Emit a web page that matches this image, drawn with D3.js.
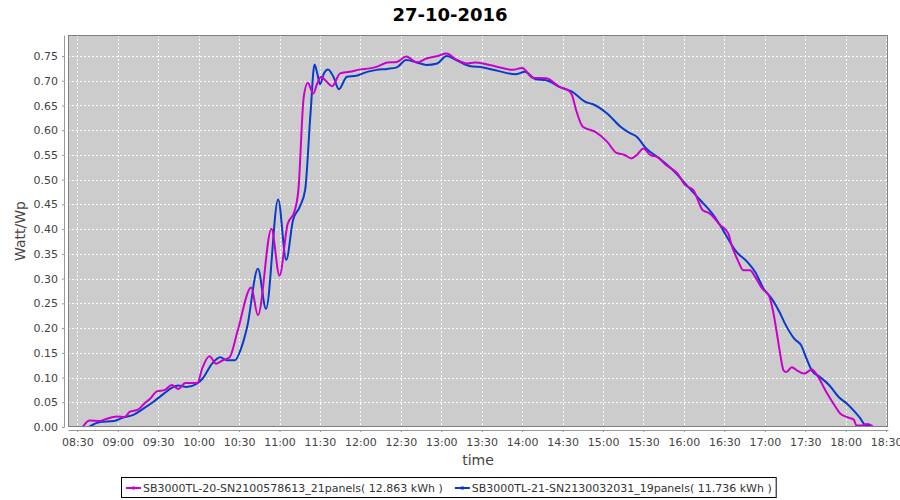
<!DOCTYPE html>
<meta charset="utf-8">
<html>
  <head>
    <style>
      body { margin: 0; background: #fff; }
      text { font-family: "DejaVu Sans", sans-serif; }
      .axis text { font-size: 11px; fill: #444; }
      .axis path, .axis line { stroke: #999; }
      .grid line { stroke: #fff; stroke-width: 1px; stroke-dasharray: 2,2; opacity: 0.9; }
    </style>
    <script src="https://d3js.org/d3.v7.min.js"></script>
  </head>
  <body>
    <script>

      var width = 900,
          height = 500;

      // chart data
      var title = "27-10-2016";
      var seriesNames = ["SB3000TL-20-SN2100578613_21panels( 12.863 kWh )",
                         "SB3000TL-21-SN2130032031_19panels( 11.736 kWh )"];
      var seriesColors = ["#cc00cc", "#0a3bcc"];

      var magentaTimes = ["08:34","08:39","08:47","08:50","09:00","09:05","09:09","09:15","09:20","09:24",
        "09:29","09:35","09:40","09:45","09:50","09:59","10:03","10:08","10:13","10:18",
        "10:23","10:29","10:39","10:44","10:54","11:00","11:06","11:11","11:14","11:18",
        "11:21","11:25","11:28","11:31","11:34","11:39","11:45","11:52","12:00","12:07",
        "12:12","12:20","12:27","12:34","12:42","12:49","12:57","13:04","13:11","13:19",
        "13:25","13:34","13:42","13:53","14:00","14:08","14:18","14:28","14:34","14:37",
        "14:40","14:45","14:54","15:03","15:10","15:16","15:21","15:25","15:30","15:35",
        "15:40","15:47","15:55","16:01","16:07","16:14","16:19","16:27","16:33","16:35",
        "16:40","16:44","16:49","16:53","16:58","17:03","17:06","17:09","17:11","17:14",
        "17:16","17:20","17:24","17:29","17:35","17:39","17:45","17:51","17:56","18:01",
        "18:06","18:08","18:12","18:16","18:20"];
      var magentaValues = [0.000,0.013,0.012,0.015,0.021,0.020,0.031,0.035,0.048,0.057,
        0.072,0.075,0.085,0.077,0.089,0.089,0.121,0.143,0.128,0.135,
        0.141,0.195,0.282,0.226,0.401,0.306,0.410,0.435,0.479,0.668,
        0.696,0.674,0.695,0.708,0.701,0.689,0.715,0.718,0.723,0.725,
        0.728,0.737,0.738,0.749,0.737,0.745,0.750,0.755,0.743,0.735,
        0.737,0.733,0.728,0.722,0.726,0.706,0.705,0.687,0.681,0.671,
        0.641,0.607,0.597,0.577,0.554,0.550,0.543,0.550,0.563,0.550,
        0.546,0.529,0.513,0.489,0.479,0.438,0.432,0.408,0.391,0.371,
        0.337,0.317,0.317,0.303,0.280,0.266,0.236,0.189,0.155,0.114,
        0.111,0.121,0.114,0.108,0.116,0.104,0.074,0.047,0.027,0.020,
        0.015,0.003,0.003,0.006,0.002];

      var blueTimes = ["08:39","08:47","08:57","09:04","09:12","09:19","09:26","09:34","09:40","09:45",
        "09:51","09:59","10:03","10:10","10:16","10:21","10:27","10:31","10:36","10:44",
        "10:50","10:59","11:05","11:10","11:15","11:19","11:23","11:26","11:28","11:30",
        "11:33","11:36","11:40","11:44","11:50","11:57","12:05","12:12","12:20","12:27",
        "12:34","12:42","12:49","12:57","13:04","13:11","13:21","13:31","13:42","13:55",
        "14:02","14:10","14:18","14:28","14:37","14:47","14:52","15:03","15:13","15:20",
        "15:25","15:32","15:42","15:52","16:02","16:12","16:22","16:29","16:39","16:47",
        "16:53","16:59","17:05","17:11","17:15","17:22","17:27","17:31","17:35","17:41",
        "17:48","17:55","18:01","18:07","18:11","18:14","18:19"];
      var blueValues = [0.001,0.010,0.012,0.019,0.025,0.037,0.050,0.067,0.079,0.084,
        0.081,0.088,0.098,0.128,0.141,0.135,0.135,0.155,0.202,0.320,
        0.239,0.460,0.338,0.418,0.445,0.479,0.634,0.733,0.715,0.693,
        0.715,0.723,0.708,0.683,0.708,0.710,0.718,0.722,0.724,0.727,
        0.742,0.737,0.732,0.735,0.750,0.742,0.730,0.727,0.720,0.713,
        0.718,0.703,0.701,0.687,0.678,0.657,0.653,0.634,0.607,0.594,
        0.587,0.563,0.543,0.519,0.489,0.459,0.428,0.398,0.354,0.334,
        0.313,0.280,0.260,0.232,0.209,0.178,0.165,0.138,0.114,0.101,
        0.084,0.060,0.047,0.030,0.017,0.005,0.002];

      var yTickValues = [0, 0.05, 0.10, 0.15, 0.20, 0.25, 0.30, 0.35, 0.40, 0.45, 0.50, 0.55, 0.60, 0.65, 0.70, 0.75];

      var parseTime = function(s) {
          var p = s.split(":");
          return new Date(2016, 9, 27, +p[0], +p[1]);
      };

      var series = [
          magentaTimes.map(function(t, i) { return { t: parseTime(t), v: magentaValues[i] }; }),
          blueTimes.map(function(t, i) { return { t: parseTime(t), v: blueValues[i] }; })
      ];

      var plot = { left: 68, top: 35, right: 888, bottom: 427 };

      var x = d3.scaleTime()
          .domain([new Date(2016, 9, 27, 8, 23, 6), new Date(2016, 9, 27, 18, 31, 24)])
          .range([plot.left, plot.right]);

      var y = d3.scaleLinear()
          .domain([0, 0.7925])
          .range([plot.bottom, plot.top]);

      var svg = d3.select("body").append("svg")
          .attr("width", width)
          .attr("height", height);

      // title
      svg.append("text")
          .attr("x", 450)
          .attr("y", 21)
          .attr("text-anchor", "middle")
          .style("font-size", "18px")
          .style("font-weight", "bold")
          .attr("fill", "#000")
          .text(title);

      // plot background
      svg.append("rect")
          .attr("x", plot.left)
          .attr("y", plot.top)
          .attr("width", plot.right - plot.left)
          .attr("height", plot.bottom - plot.top)
          .attr("fill", "#cccccc");

      var xTicks = x.ticks(d3.timeMinute.every(30));

      var grid = svg.append("g").attr("class", "grid");
      grid.selectAll(".gx")
          .data(xTicks)
          .enter().append("line")
          .attr("x1", function(d) { return Math.round(x(d)) + 0.5; })
          .attr("x2", function(d) { return Math.round(x(d)) + 0.5; })
          .attr("y1", plot.top)
          .attr("y2", plot.bottom);
      grid.selectAll(".gy")
          .data(yTickValues)
          .enter().append("line")
          .attr("x1", plot.left)
          .attr("x2", plot.right)
          .attr("y1", function(d) { return Math.round(y(d)) + 0.5; })
          .attr("y2", function(d) { return Math.round(y(d)) + 0.5; });

      // lines, blue first so magenta sits on top
      var line = d3.line()
          .x(function(d) { return x(d.t); })
          .y(function(d) { return y(d.v); })
          .curve(d3.curveMonotoneX);

      svg.append("g").selectAll("path")
          .data([1, 0])
          .enter().append("path")
          .attr("d", function(i) { return line(series[i]); })
          .attr("fill", "none")
          .attr("stroke", function(i) { return seriesColors[i]; })
          .attr("stroke-width", 2)
          .attr("stroke-linejoin", "round");

      // plot outline
      svg.append("rect")
          .attr("x", plot.left + 0.5)
          .attr("y", plot.top + 0.5)
          .attr("width", plot.right - plot.left - 1)
          .attr("height", plot.bottom - plot.top - 1)
          .attr("fill", "none")
          .attr("stroke", "#808080");

      // axes
      svg.append("g")
          .attr("class", "axis")
          .attr("transform", "translate(64,0)")
          .call(d3.axisLeft(y)
                .tickValues(yTickValues)
                .tickFormat(d3.format(".2f"))
                .tickSize(2)
                .tickSizeOuter(0)
                .tickPadding(4));

      svg.append("g")
          .attr("class", "axis")
          .attr("transform", "translate(0,430)")
          .call(d3.axisBottom(x)
                .tickValues(xTicks)
                .tickFormat(d3.timeFormat("%H:%M"))
                .tickSize(2)
                .tickSizeOuter(0)
                .tickPadding(6));

      svg.selectAll(".axis .domain").attr("stroke", "#999");

      // axis titles
      svg.append("text")
          .attr("x", (plot.left + plot.right) / 2)
          .attr("y", 465)
          .attr("text-anchor", "middle")
          .style("font-size", "14px")
          .attr("fill", "#444")
          .text("time");

      svg.append("text")
          .attr("transform", "translate(25," + ((plot.top + plot.bottom) / 2) + ") rotate(-90)")
          .attr("text-anchor", "middle")
          .style("font-size", "14px")
          .attr("fill", "#444")
          .text("Watt/Wp");

      // legend
      var legend = svg.append("g");
      var legendBox = legend.append("rect")
          .attr("fill", "#fff")
          .attr("stroke", "#000");

      var cursor = 0;
      var items = seriesNames.map(function(name, i) {
          var g = legend.append("g").attr("transform", "translate(" + cursor + ",0)");
          g.append("line")
              .attr("x1", 0).attr("x2", 15)
              .attr("y1", 0).attr("y2", 0)
              .attr("stroke", seriesColors[i])
              .attr("stroke-width", 2);
          g.append("rect")
              .attr("x", 6).attr("y", -1.5)
              .attr("width", 3).attr("height", 3)
              .attr("fill", seriesColors[i]);
          var t = g.append("text")
              .attr("x", 17)
              .attr("y", 4)
              .style("font-size", "11px")
              .attr("fill", "#333")
              .text(name);
          var w = 17 + t.node().getComputedTextLength();
          cursor += w + 12;
          return w;
      });
      var legendWidth = cursor - 12;
      var lx = Math.round(449 - legendWidth / 2);
      legend.attr("transform", "translate(" + lx + ",488)");
      legendBox
          .attr("x", -4.5)
          .attr("y", -10.5)
          .attr("width", legendWidth + 9)
          .attr("height", 20);

    </script>
  </body>
</html>
